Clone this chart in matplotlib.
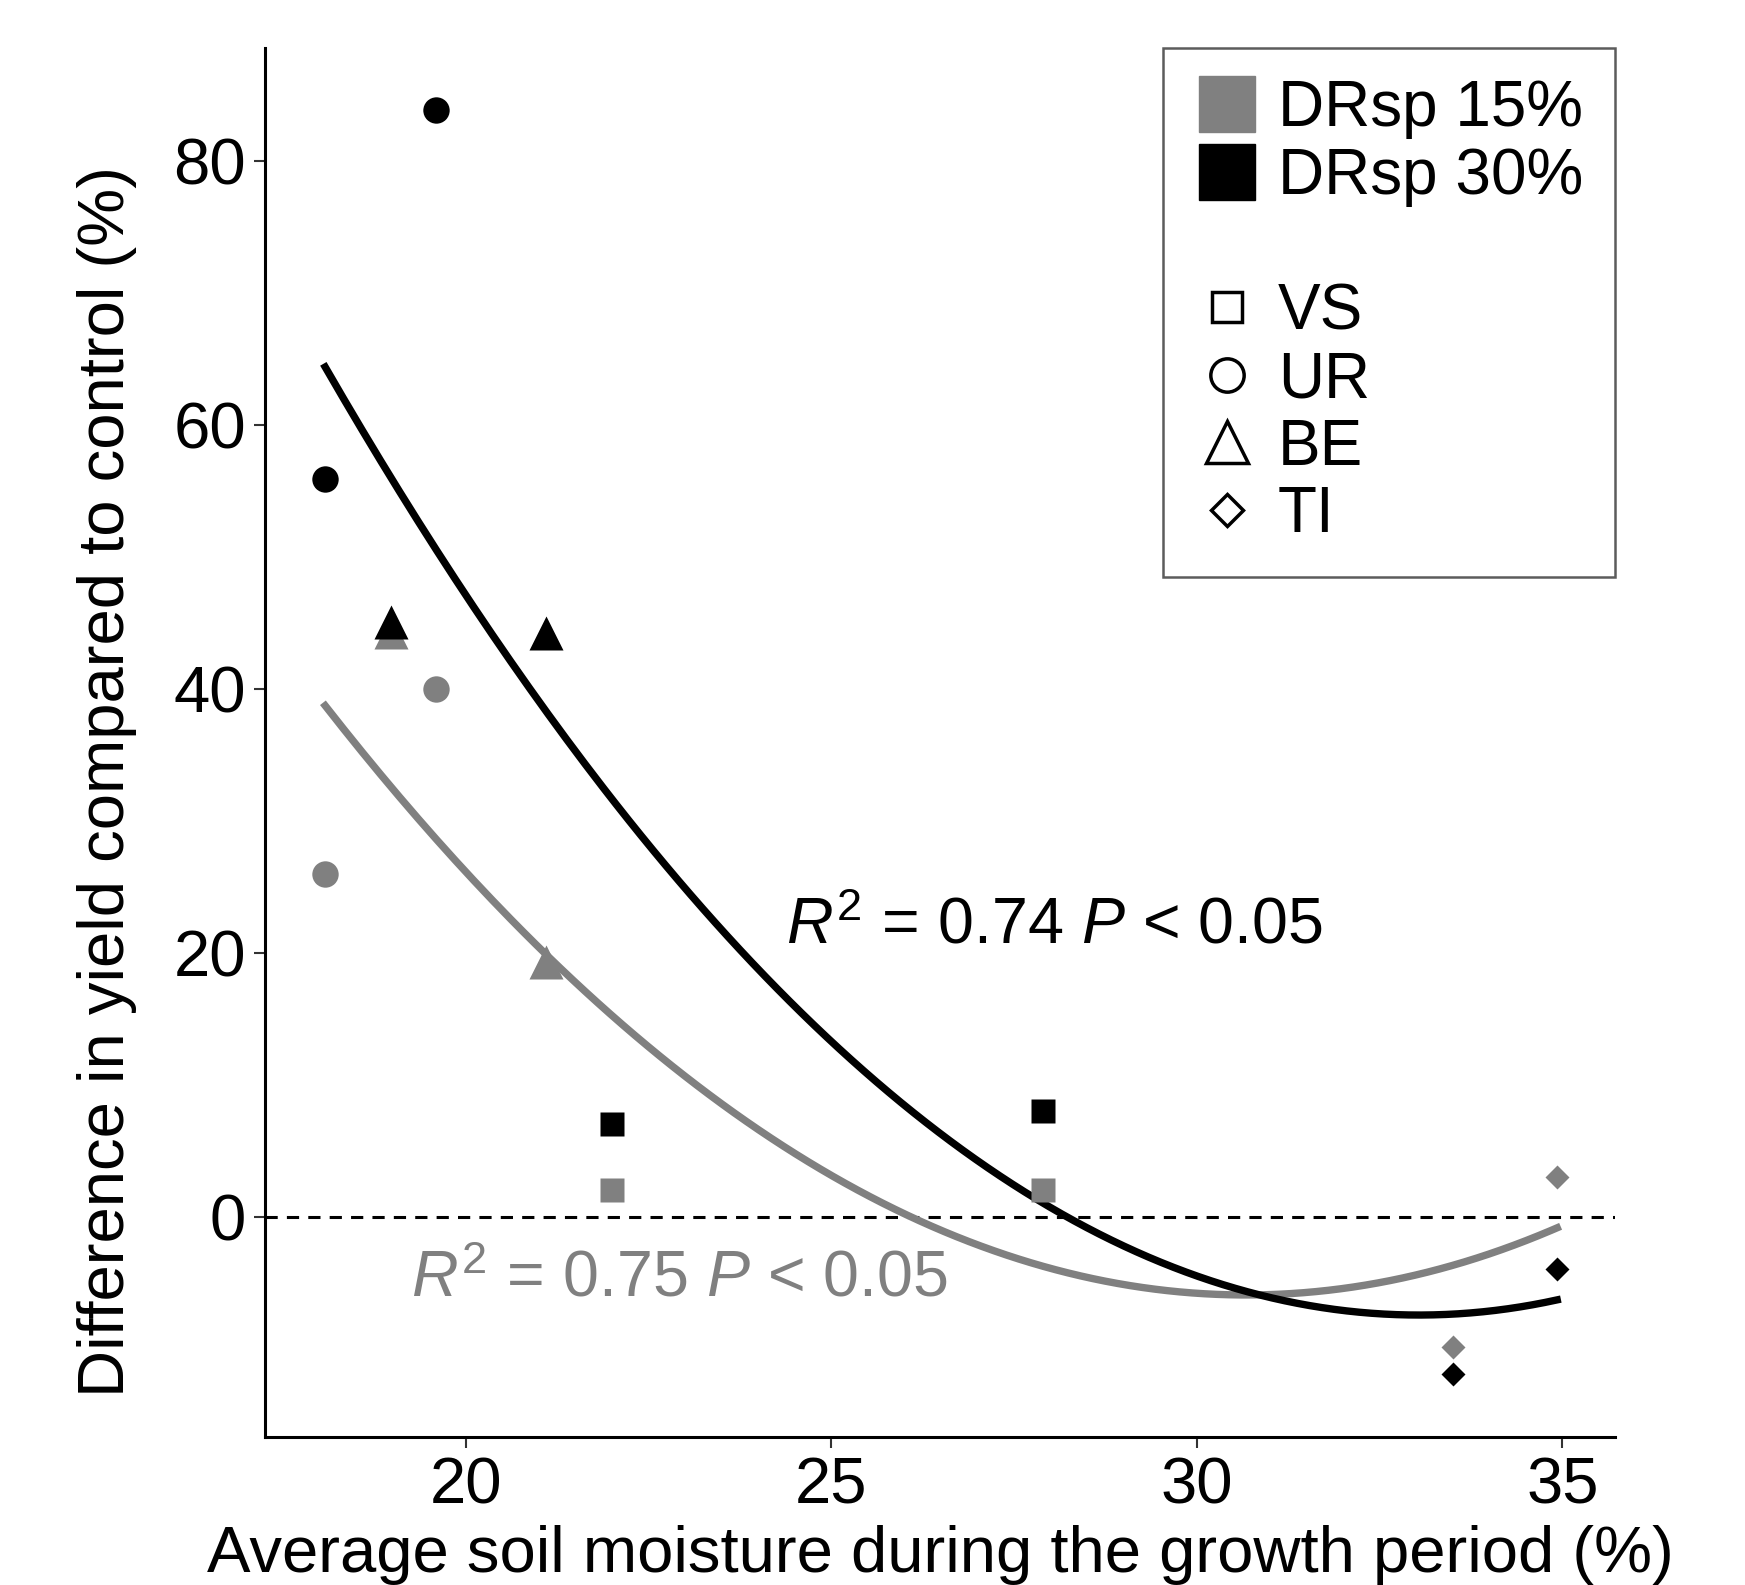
import numpy as np
import matplotlib
matplotlib.use("Agg")
import matplotlib.pyplot as plt
from matplotlib.lines import Line2D

plt.rcParams['font.family'] = ['Liberation Sans', 'DejaVu Sans']
plt.rcParams['mathtext.fontset'] = 'custom'
plt.rcParams['mathtext.rm'] = 'Liberation Sans'
plt.rcParams['mathtext.it'] = 'Liberation Sans:italic'

# site of each point and its average soil moisture (%)
sites = ['UR', 'UR', 'BE', 'BE', 'VS', 'VS', 'TI', 'TI']
moisture = [18.08, 19.6, 18.98, 21.1, 22.0, 27.9, 33.5, 34.93]
# difference in yield compared to control (%)
diff_15 = [26.0, 40.0, 44.3, 19.3, 2.0, 2.0, -9.9, 3.0]
diff_30 = [55.9, 83.9, 45.1, 44.2, 7.0, 8.0, -11.9, -4.0]

site_markers = {'VS': 's', 'UR': 'o', 'BE': '^', 'TI': 'D'}
site_sizes = {'VS': 17, 'UR': 19, 'BE': 24, 'TI': 12}
gray = '#808080'

fig = plt.figure(figsize=(17.45, 15.85), dpi=100)
ax = fig.add_axes([0.152, 0.0934, 0.7735, 0.8766])

ax.axhline(0, color='black', lw=2.2, ls=(0, (4, 3)), zorder=1)

xs = np.linspace(min(moisture), max(moisture), 200)
for vals, col in [(diff_15, gray), (diff_30, 'black')]:
    coef = np.polyfit(moisture, vals, 2)
    ax.plot(xs, np.polyval(coef, xs), color=col, lw=5.3, zorder=2)

for vals, col in [(diff_15, gray), (diff_30, 'black')]:
    for s, x, y in zip(sites, moisture, vals):
        ax.plot(x, y, marker=site_markers[s], ms=site_sizes[s], color=col,
                mec='none', ls='none', zorder=3)

ax.text(24.38, 22.0, r'$R^2$ = 0.74 $P$ < 0.05', fontsize=46.5, color='black',
        va='center', ha='left')
ax.text(19.25, -4.8, r'$R^2$ = 0.75 $P$ < 0.05', fontsize=46.5, color=gray,
        va='center', ha='left')

ax.set_xlim(17.26, 35.72)
ax.set_ylim(-16.7, 88.6)
ax.set_xticks([20, 25, 30, 35])
ax.set_yticks([0, 20, 40, 60, 80])
ax.tick_params(labelsize=47, width=1.5, length=8, color='#333333', pad=6)
for side in ['top', 'right']:
    ax.spines[side].set_visible(False)
for side in ['left', 'bottom']:
    ax.spines[side].set_linewidth(2.2)

ax.set_xlabel('Average soil moisture during the growth period (%)', fontsize=47, labelpad=6)
ax.set_ylabel('Difference in yield compared to control (%)', fontsize=47, labelpad=26)
ax.yaxis.label.set_y(0.472)

handles = [
    Line2D([], [], marker='s', ms=40, color=gray, ls='none'),
    Line2D([], [], marker='s', ms=40, color='black', ls='none'),
    Line2D([], [], ls='none'),
    Line2D([], [], marker='s', ms=22, mfc='none', mec='black', mew=2.5, ls='none'),
    Line2D([], [], marker='o', ms=24, mfc='none', mec='black', mew=2.5, ls='none'),
    Line2D([], [], marker='^', ms=30, mfc='none', mec='black', mew=2.5, ls='none'),
    Line2D([], [], marker='D', ms=16, mfc='none', mec='black', mew=2.5, ls='none'),
]
labels = ['DRsp 15%', 'DRsp 30%', '', 'VS', 'UR', 'BE', 'TI']
leg = ax.legend(handles, labels, loc='upper right', bbox_to_anchor=(1.0, 1.0),
                borderaxespad=0, fontsize=46, frameon=True, fancybox=False,
                handlelength=1.0, handletextpad=0.3, labelspacing=0.12,
                borderpad=0.5)
leg.get_frame().set_edgecolor('#333333')
leg.get_frame().set_linewidth(1.8)

fig.savefig('out.png', dpi=100)
